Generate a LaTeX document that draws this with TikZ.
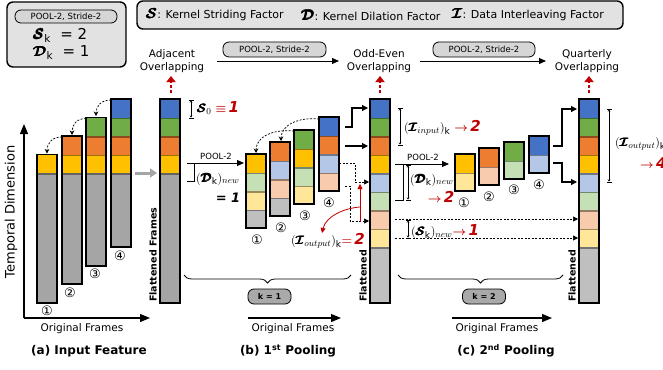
\documentclass[tikz,border=0pt]{standalone}
\usepackage{amsmath}
\usepackage{bm}
\usepackage{fontspec}
\setmainfont{DejaVu Sans}
\usetikzlibrary{arrows.meta,decorations.pathreplacing,positioning}

\definecolor{cBlue}{HTML}{4472C4}
\definecolor{cGreen}{HTML}{70AD47}
\definecolor{cOrange}{HTML}{ED7D31}
\definecolor{cYellow}{HTML}{FFC000}
\definecolor{cGray}{HTML}{A5A5A5}
\definecolor{cLBlue}{HTML}{B4C7E7}
\definecolor{cLGreen}{HTML}{C5E0B4}
\definecolor{cPeach}{HTML}{F8CBAD}
\definecolor{cLYellow}{HTML}{FFE699}
\definecolor{cLGray}{HTML}{BFBFBF}
\definecolor{dred}{HTML}{C00000}
\definecolor{boxgray}{HTML}{E2E2E2}
\definecolor{pillgray}{HTML}{D6D6D6}
\definecolor{kgray}{HTML}{A9A9A9}

\newcommand{\Sk}{\pmb{\bm{\mathcal{S}}}}
\newcommand{\Dk}{\pmb{\bm{\mathcal{D}}}}
\newcommand{\Ik}{\pmb{\bm{\mathcal{I}}}}
\newcommand{\bigsym}[1]{{\fontsize{14}{14}\selectfont$#1$}}
\newcommand{\reddig}[1]{{\fontsize{15}{15}\selectfont\color{dred}\bfseries\itshape #1}}
\newcommand{\redto}[1]{\textcolor{dred}{$\bm{\rightarrow}$}\,\reddig{#1}}

% one column of frames: x, top, bottom, colours from the top
\newcommand{\tower}[4]{%
  \foreach \segc [count=\i from 0] in {#4} {
    \fill[fill=\segc] (#1,#2+\i*18.5) rectangle (#1+20,#3);
    \ifnum\i>0
      \draw[color=\segc!60!black, line width=1.5pt] (#1,#2+\i*18.5+0.75) -- ++(20,0);
    \fi
  }
  \draw[line width=1.8pt] (#1,#2) rectangle (#1+20,#3);
}

\tikzset{
  infobox/.style={draw, line width=1.4pt, rounded corners=6pt, fill=boxgray},
  pill/.style={draw, line width=0.8pt, rounded corners=6pt, fill=pillgray, inner sep=0pt,
    font=\fontsize{8.5}{10}\selectfont},
  kpill/.style={pill, fill=kgray, font=\bfseries\fontsize{8}{9}\selectfont,
    minimum width=43pt, minimum height=15pt},
  lbl/.style={inner sep=0pt, font=\fontsize{10.5}{12.5}\selectfont},
  lgd/.style={inner sep=0pt, font=\fontsize{11}{13}\selectfont},
  big/.style={inner sep=0pt, font=\fontsize{15}{18}\selectfont},
  mth/.style={inner sep=0pt, font=\fontsize{13}{15}\selectfont},
  ttl/.style={inner sep=0pt, font=\bfseries\fontsize{12}{14}\selectfont},
  num/.style={inner sep=0pt, font=\fontsize{13}{14}\selectfont},
  vlbl/.style={inner sep=0pt, rotate=90, anchor=west, font=\bfseries\fontsize{9.5}{11}\selectfont},
  flow/.style={-{Triangle[length=7pt,width=6pt]}, line width=1pt},
  axis/.style={-{Triangle[length=10pt,width=8pt]}, line width=1.2pt},
  redup/.style={dred, line width=1.6pt, dash pattern=on 3pt off 2pt, -{Triangle[length=6pt,width=9pt]}},
  stp/.style={-{Triangle[length=6pt,width=6pt]}, line width=1.1pt},
  dstp/.style={-{Triangle[length=5pt,width=5pt]}, line width=0.7pt, dash pattern=on 2pt off 1.5pt},
  crv/.style={-{Stealth[length=4.5pt,width=4.5pt]}, line width=0.7pt, dash pattern=on 2pt off 1.5pt},
  ibar/.style={|<->|, >={Stealth[length=2pt,width=2.5pt]}, line width=0.5pt},
  brc/.style={decorate, decoration={brace, mirror, amplitude=8pt}, line width=0.8pt},
  redln/.style={dred, line width=0.8pt, -{Triangle[length=5pt,width=5pt]}}
}

\begin{document}
\begin{tikzpicture}[x=1pt, y=-1pt]
\path[use as bounding box, fill=white] (0,0) rectangle (663,369);

% setting box and legend
\draw[infobox] (7,2) rectangle (126,67);
\node[pill, minimum width=102pt, minimum height=13pt] (cfg) at (66,16.5) {POOL-2, Stride-2};
\node[big, anchor=west] (sk) at (33,35) {$\Sk_{\text{k}}$\ \ = 2};
\node[big, anchor=west] (dk) at (33,53) {$\Dk_{\text{k}}$\ \ = 1};
\draw[infobox] (137,1) rectangle (623,29);
\node[lgd, anchor=west] (lgS) at (146,15) {\bigsym{\Sk}: Kernel Striding Factor};
\node[lgd, anchor=west] (lgD) at (301,15) {\bigsym{\Dk}: Kernel Dilation Factor};
\node[lgd, anchor=west] (lgI) at (452,15) {\bigsym{\Ik}: Data Interleaving Factor};

% top row
\node[lbl, align=center] (adj) at (172,61) {Adjacent\\Overlapping};
\node[lbl, align=center] (odd) at (379,61) {Odd-Even\\Overlapping};
\node[lbl, align=center] (qrt) at (587,61) {Quarterly\\Overlapping};
\node[pill, minimum width=103pt, minimum height=15pt] (pl1) at (274.5,49.5) {POOL-2, Stride-2};
\node[pill, minimum width=102pt, minimum height=15pt] (pl2) at (484,49.5) {POOL-2, Stride-2};
\coordinate (f1s) at (217,61);
\coordinate (f1e) at (339,61);
\coordinate (f2s) at (420,61);
\coordinate (f2e) at (546,61);
\draw[flow] (f1s) -- (f1e);
\draw[flow] (f2s) -- (f2e);
\draw[redup] (171,93) -- (171,76);
\draw[redup] (380,93) -- (380,76);
\draw[redup] (589,93) -- (589,76);

% (a) input feature
\tower{37}{154.5}{303}{cYellow,cGray}
\tower{62}{136}{284}{cOrange,cYellow,cGray}
\tower{86}{117.5}{266}{cGreen,cOrange,cYellow,cGray}
\tower{111}{99}{247}{cBlue,cGreen,cOrange,cYellow,cGray}
\draw[crv] (111,100) .. controls (101,100) and (96,106) .. (96,116);
\draw[crv] (86,118.5) .. controls (76,118.5) and (72,125) .. (72,135);
\draw[crv] (62,137) .. controls (52,137) and (47,143) .. (47,153.5);
\node[num] (a1) at (47,311) {①};
\node[num] (a2) at (70,293) {②};
\node[num] (a3) at (95,274) {③};
\node[num] (a4) at (120,256) {④};
\draw[axis] (24,318) -- (24,124);
\draw[axis] (24,318) -- (150,318);
\node[rotate=90, font=\fontsize{13}{15}\selectfont] (tdim) at (11,212) {Temporal Dimension};
\node[lbl] (ofa) at (82,329) {Original Frames};
\node[ttl] (ta) at (89,351) {(a) Input Feature};
\draw[-{Triangle[length=7pt,width=9pt]}, line width=3pt, color=cGray] (135,173) -- (157,173);

% flattened input
\tower{160}{99}{303}{cBlue,cGreen,cOrange,cYellow,cGray}
\node[vlbl] (fl1) at (153,302) {Flattened Frames};
\draw[ibar] (191,100) -- (191,118);
\node[mth, anchor=west] (s0) at (197,108) {$\Sk_0$ \textcolor{dred}{$\bm{\equiv}$}\,\reddig{1}};

% (b) first pooling
\draw[flow] (187,163) -- (244,163);
\node[font=\fontsize{8.5}{10}\selectfont, inner sep=0pt] (pb) at (216,156) {POOL-2};
\draw[line width=0.9pt] (194,163) -- (194,181) -- (187,181);
\node[mth, anchor=west] (dnb) at (196,179) {$(\Dk_{\text{k}})_{new}$};
\node[mth] (eqb) at (228,198) {\bfseries\itshape = 1};
\tower{246}{154}{228}{cYellow,cLGreen,cLYellow,cLGray}
\tower{270}{142}{216}{cOrange,cLBlue,cPeach,cLGray}
\tower{294}{130}{204}{cGreen,cYellow,cLGreen,cLYellow}
\tower{319}{117}{191}{cBlue,cOrange,cLBlue,cPeach}
\draw[crv] (319,119) .. controls (298,117) and (281,125) .. (281,141);
\draw[crv] (294,131) .. controls (272,129) and (256,137) .. (256,153);
\node[num] (b1) at (257,240) {①};
\node[num] (b2) at (281,228) {②};
\node[num] (b3) at (305,216) {③};
\node[num] (b4) at (329,203) {④};
\draw[stp] (345,127) -- (352,127) -- (352,108) -- (368,108);
\draw[stp] (345,146) -- (368,146);
\draw[dstp] (339,163) -- (355,163) -- (355,182) -- (369,182);
\draw[dstp] (345,186) -- (350,186) -- (350,221) -- (369,221);
\draw[redln] (360,222) -- (360,184);
\draw[redln] (360,207) .. controls (345,208) and (326,216) .. (322,233);
\node[mth, anchor=east] (iob) at (365,241) {$(\Ik_{output})_{\text{k}}$\textcolor{dred}{$\bm{=}$}\,\reddig{2}};
\draw[brc] (184,275) -- (351,275);
\node[kpill] (k1) at (269.5,296.5) {k = 1};
\draw[axis] (248,318) -- (341,318);
\node[lbl] (ofb) at (293,329) {Original Frames};
\node[ttl] (tb) at (288,351) {(b) 1\textsuperscript{st} Pooling};

% flattened after first pooling
\tower{370}{99}{303}{cBlue,cGreen,cOrange,cYellow,cLBlue,cLGreen,cPeach,cLYellow,cLGray}
\node[vlbl] (fl2) at (363,302) {Flattened};

% (c) second pooling
\draw[ibar] (400,108) -- (400,145);
\node[mth, anchor=west] (iic) at (404,128) {$(\Ik_{input})_{\text{k}}$\ \redto{2}};
\draw[flow] (395,164) -- (449,164);
\node[font=\fontsize{8.5}{10}\selectfont, inner sep=0pt] (pc) at (423,157) {POOL-2};
\draw[line width=0.9pt] (403,164) -- (403,200) -- (395,200);
\draw[ibar] (408,165) -- (408,200);
\node[mth, anchor=west] (dnc) at (410,180) {$(\Dk_{\text{k}})_{new}$};
\node[mth] (rc2) at (441,197) {\redto{2}};
\tower{455}{154}{191}{cYellow,cLYellow}
\tower{479}{148}{185}{cOrange,cPeach}
\tower{504}{142}{179}{cGreen,cLGreen}
\tower{529}{136}{173}{cBlue,cLBlue}
\node[num] (c1) at (464,203) {①};
\node[num] (c2) at (489,197) {②};
\node[num] (c3) at (514,190) {③};
\node[num] (c4) at (539,185) {④};
\draw[stp] (553,146) -- (562,146) -- (562,109) -- (577,109);
\draw[stp] (553,163) -- (562,163) -- (562,182) -- (577,182);
\draw[dstp] (395,219) -- (578,219);
\draw[dstp] (395,238) -- (578,238);
\draw[ibar] (408,220) -- (408,238);
\node[mth, anchor=west] (snc) at (411,232) {$(\Sk_{\text{k}})_{new}$\redto{1}};
\draw[brc] (398,275) -- (563,275);
\node[kpill] (k2) at (484,296.5) {k = 2};
\draw[axis] (452,318) -- (552,318);
\node[lbl] (ofc) at (497,329) {Original Frames};
\node[ttl] (tc) at (506,351) {(c) 2\textsuperscript{nd} Pooling};

% flattened after second pooling
\tower{579}{99}{303}{cBlue,cGreen,cOrange,cYellow,cLBlue,cLGreen,cPeach,cLYellow,cLGray}
\node[vlbl] (fl3) at (572,302) {Flattened};
\draw[ibar] (609,109) -- (609,182);
\node[mth, anchor=west] (ioc) at (615,144) {$(\Ik_{output})_{\text{k}}$};
\node[mth, anchor=west] (r4) at (640,163) {\redto{4}};
\end{tikzpicture}
\end{document}
